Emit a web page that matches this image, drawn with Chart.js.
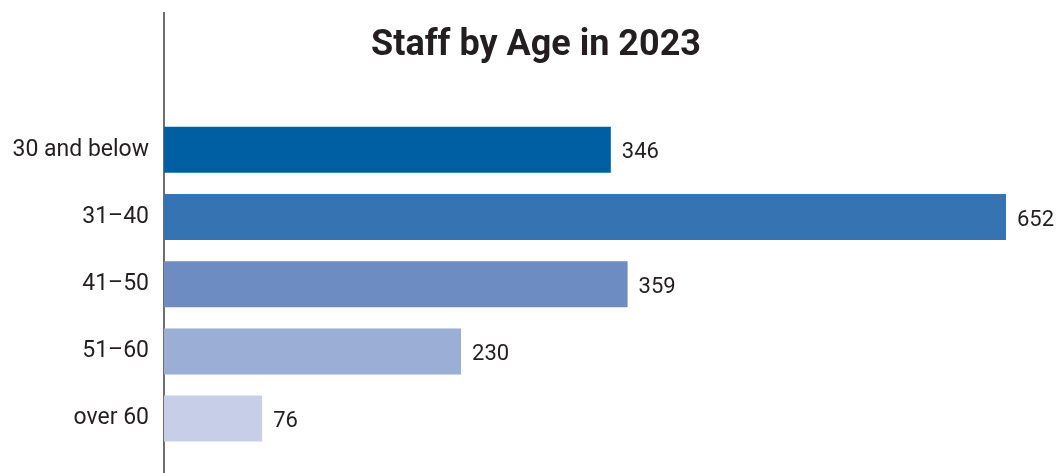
<!doctype html>
<html>

<head>
    <title>Staff by Age in 2023</title>
    <script src="https://cdn.jsdelivr.net/npm/chart.js@4.4.0/dist/chart.umd.min.js"></script>
    <style>
    html, body {
        margin: 0;
        padding: 0;
        background: #fff;
    }
    #wrap {
        width: 1061px;
        height: 473px;
    }
    </style>
</head>

<body>
    <div id="wrap">
        <canvas id="mycanvas"></canvas>
    </div>

<script>

// data
var ageGroups = ["30 and below", "31\u201340", "41\u201350", "51\u201360", "over 60"];
var staffCount = [346, 652, 359, 230, 76];
var barColours = ["#005fa3", "#3673b3", "#6d8cc2", "#9aaed6", "#c7cfe8"];

var textColour = "#231f20";
var fontName = "Roboto, 'Open Sans', sans-serif";

// value labels at the end of each bar
var endLabels = {
    id: "endLabels",
    afterDatasetsDraw: function(chart) {
        var ctx = chart.ctx;
        var meta = chart.getDatasetMeta(0);
        ctx.save();
        ctx.font = "22px " + fontName;
        ctx.fillStyle = textColour;
        ctx.textAlign = "left";
        ctx.textBaseline = "middle";
        meta.data.forEach(function(bar, i) {
            ctx.fillText(chart.data.datasets[0].data[i], bar.x + 11, bar.y + 3);
        });
        ctx.restore();
    }
};

// the vertical axis line runs the full height of the page
var axisLine = {
    id: "axisLine",
    beforeDatasetsDraw: function(chart) {
        var ctx = chart.ctx;
        var x = chart.scales.y.right;
        ctx.save();
        ctx.strokeStyle = textColour;
        ctx.lineWidth = 1.3;
        ctx.beginPath();
        ctx.moveTo(x, 12);
        ctx.lineTo(x, chart.height);
        ctx.stroke();
        ctx.restore();
    }
};

var ctx = document.getElementById("mycanvas");

var barGraph = new Chart(ctx, {
    type: "bar",
    data: {
        labels: ageGroups,
        datasets: [
            {
                label: "Staff",
                data: staffCount,
                backgroundColor: barColours,
                borderWidth: 0,
                categoryPercentage: 1.0,
                barPercentage: 0.684
            }
        ]
    },
    options: {
        indexAxis: "y",
        responsive: true,
        maintainAspectRatio: false,
        animation: false,
        layout: {
            padding: { left: 0, right: -11, top: 0, bottom: 12 }
        },
        plugins: {
            legend: { display: false },
            tooltip: { enabled: false },
            title: {
                display: true,
                text: "Staff by Age in 2023",
                color: textColour,
                font: { family: fontName, size: 36, weight: "bold" },
                padding: { top: 24, bottom: 49 }
            }
        },
        scales: {
            x: {
                display: false,
                min: 0,
                max: 694.6
            },
            y: {
                grid: { display: false },
                border: { display: false },
                afterFit: function(scale) {
                    scale.width = 164;
                },
                ticks: {
                    color: textColour,
                    padding: 7,
                    font: { family: fontName, size: 23 }
                }
            }
        }
    },
    plugins: [endLabels, axisLine]
});
</script>

</body>

</html>
